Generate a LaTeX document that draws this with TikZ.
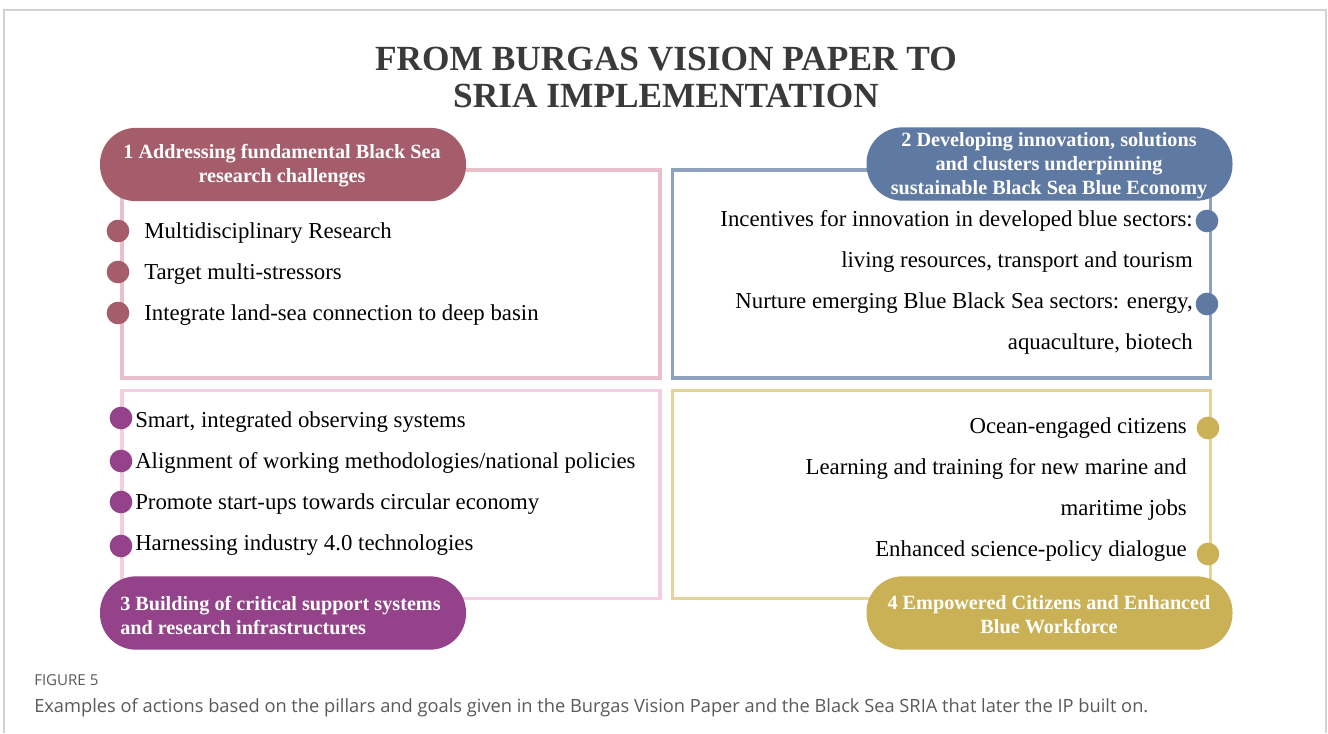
\documentclass[tikz,border=0pt]{standalone}
\usepackage{fontspec}
\setmainfont{Liberation Serif}
\newfontfamily\capfont{Open Sans}
\definecolor{titlec}{HTML}{3A3A3A}
\definecolor{frame}{HTML}{D2D2D2}
\definecolor{pillA}{HTML}{A65D6B}
\definecolor{boxA}{HTML}{E8BFCA}
\definecolor{pillB}{HTML}{5F7AA2}
\definecolor{boxB}{HTML}{8EA2BF}
\definecolor{pillC}{HTML}{94428A}
\definecolor{boxC}{HTML}{F4CDE1}
\definecolor{pillD}{HTML}{CAB156}
\definecolor{boxD}{HTML}{E5D498}
\definecolor{capc}{HTML}{5A5A5A}
\tikzset{
  frameline/.style={draw=frame, line width=0.9pt},
  panel/.style={draw=#1, line width=2.6pt, minimum width=403.5pt, minimum height=156pt, inner sep=0pt},
  pill/.style={fill=#1, rounded corners=27pt, minimum width=274.5pt, minimum height=55pt, inner sep=0pt},
  pilltext/.style={text=white, font=\bfseries\fontsize{15.15}{18}\selectfont, inner sep=0pt},
  dot/.style={circle, fill=#1, minimum size=17pt, inner sep=0pt},
  item/.style={text=black, font=\fontsize{17.1}{19}\selectfont, inner sep=0pt},
  titletext/.style={text=titlec, font=\bfseries\fontsize{26.5}{28}\selectfont, inner sep=0pt},
}
\begin{document}
\begin{tikzpicture}[x=0.75pt, y=-0.75pt]
\useasboundingbox (0,0) rectangle (1328,733);
\fill[white] (0,0) rectangle (1328,733);
\draw[frameline] (4,733) -- (4,10) -- (1326,10) -- (1326,733);
% title
\node[titletext, anchor=base] (t1) at (666,70) {FROM BURGAS VISION PAPER TO};
\node[titletext, anchor=base] (t2) at (666,107) {SRIA IMPLEMENTATION};
% panels
\node[panel=boxA] (b1) at (391,274) {};
\node[panel=boxB] (b2) at (941.5,274) {};
\node[panel=boxC] (b3) at (391,494.5) {};
\node[panel=boxD] (b4) at (941.5,494.5) {};
% pills
\node[pill=pillA] (p1) at (283,164.5) {};
\node[pilltext, align=center] (p1t) at (282,166) {1 Addressing fundamental Black Sea\\research challenges};
\node[pill=pillB] (p2) at (1049.5,164) {};
\node[pilltext, align=center] (p2t) at (1049,166) {2 Developing innovation, solutions\\and clusters underpinning\\sustainable Black Sea Blue Economy};
\node[pill=pillC] (p3) at (283,613) {};
\node[pilltext, align=left, anchor=west] (p3t) at (120,615) {3 Building of critical support systems\\and research infrastructures};
\node[pill=pillD] (p4) at (1049.5,613) {};
\node[pilltext, align=center] (p4t) at (1049,615) {4 Empowered Citizens and Enhanced\\Blue Workforce};
% panel 1
\node[dot=pillA] (d11) at (118,231) {};
\node[dot=pillA] (d12) at (118,272) {};
\node[dot=pillA] (d13) at (118,313) {};
\node[item, anchor=base west] (i11) at (144,238) {Multidisciplinary Research};
\node[item, anchor=base west] (i12) at (144,279) {Target multi-stressors};
\node[item, anchor=base west] (i13) at (144,320) {Integrate land-sea connection to deep basin};
% panel 2
\node[dot=pillB] (d21) at (1207,221) {};
\node[dot=pillB] (d22) at (1207,304) {};
\node[item, anchor=base east] (i21) at (1193,226) {Incentives for innovation in developed blue sectors:};
\node[item, anchor=base east] (i22) at (1193,267) {living resources, transport and tourism};
\node[item, anchor=base east] (i23) at (1193,308) {Nurture emerging Blue Black Sea sectors: energy,};
\node[item, anchor=base east] (i24) at (1193,349) {aquaculture, biotech};
% panel 3
\node[dot=pillC] (d31) at (121,418) {};
\node[dot=pillC] (d32) at (121,461) {};
\node[dot=pillC] (d33) at (121,502) {};
\node[dot=pillC] (d34) at (121,546) {};
\node[item, anchor=base west] (i31) at (135,427) {Smart, integrated observing systems};
\node[item, anchor=base west] (i32) at (135,468) {Alignment of working methodologies/national policies};
\node[item, anchor=base west] (i33) at (135,509) {Promote start-ups towards circular economy};
\node[item, anchor=base west] (i34) at (135,550) {Harnessing industry 4.0 technologies};
% panel 4
\node[dot=pillD] (d41) at (1208,428) {};
\node[dot=pillD] (d42) at (1208,554) {};
\node[item, anchor=base east] (i41) at (1187,433) {Ocean-engaged citizens};
\node[item, anchor=base east] (i42) at (1187,474) {Learning and training for new marine and};
\node[item, anchor=base east] (i43) at (1187,515) {maritime jobs};
\node[item, anchor=base east] (i44) at (1187,556) {Enhanced science-policy dialogue};
% caption
\node[anchor=base west, inner sep=0pt, text=capc, font=\capfont\fontsize{11.3}{12}\selectfont] (c1) at (34,685) {FIGURE 5};
\node[anchor=base west, inner sep=0pt, text=capc, font=\capfont\fontsize{13.7}{15}\selectfont] (c2) at (34,712) {Examples of actions based on the pillars and goals given in the Burgas Vision Paper and the Black Sea SRIA that later the IP built on.};
\end{tikzpicture}
\end{document}
